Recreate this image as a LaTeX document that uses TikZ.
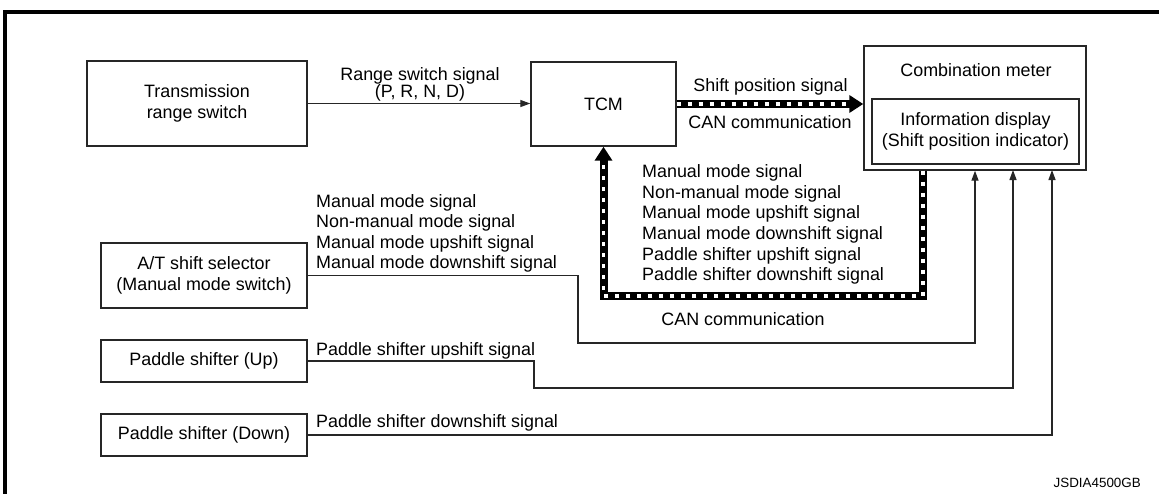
\documentclass[tikz,border=0pt]{standalone}
\usepackage{fontspec}
\setmainfont{Liberation Sans}
\usetikzlibrary{arrows.meta}
\newcommand\dgfont{\fontsize{17.9}{20.7}\selectfont}
\begin{document}
\begin{tikzpicture}[x=1pt,y=-1pt,
  box/.style={draw=black!85, line width=1.4pt, inner sep=0pt, align=center, font=\dgfont},
  txt/.style={inner sep=0pt, font=\dgfont},
  sig/.style={draw=black!85, line width=1.3pt, -{Triangle[length=10pt,width=7pt]}},
  canblack/.style={draw=black, line width=8pt, line join=miter},
  canwhite/.style={draw=white, line width=3.2pt, dash pattern=on 4pt off 7pt},
  cantip/.style={-{Triangle[length=14pt,width=17pt]}}]
\useasboundingbox (0,0) rectangle (1159,493);
% outer frame
\draw[line width=3.5pt] (5,510) -- (5,12) -- (1180,12);
% boxes
\node[box, minimum width=220pt, minimum height=85pt] (trs) at (197,103.5) {Transmission\\range switch};
\node[box, minimum width=145pt, minimum height=84pt] (tcm) at (603.5,104) {TCM};
\node[box, minimum width=222pt, minimum height=124pt] (meter) at (975,108) {};
\node[txt, anchor=base] (cmtext) at (976,76.7) {Combination meter};
\node[box, minimum width=207pt, minimum height=65pt] (info) at (975.5,131.5) {Information display\\(Shift position indicator)};
\node[box, minimum width=206pt, minimum height=65pt] (at) at (204,275.5) {A/T shift selector\\(Manual mode switch)};
\node[box, minimum width=206pt, minimum height=42pt] (pup) at (204,361) {Paddle shifter (Up)};
\node[box, minimum width=206pt, minimum height=42pt] (pdown) at (204,435) {Paddle shifter (Down)};
% coordinates
\coordinate (mB) at (1013,170);
\coordinate (mC) at (1052,170);
\coordinate (ja) at (578,343);
\coordinate (jb) at (534,388);
\coordinate (loopR) at (923,296);
\coordinate (loopL) at (603.5,296);
% thin signals
\draw[sig] (trs.east) -- (tcm.west |- trs.east);
\draw[sig] (at.east) -| (ja) -| (meter.south);
\draw[sig] (pup.east) -| (jb) -| (mB);
\draw[sig] (pdown.east) -| (mC);
% CAN lines
\draw[canblack, cantip] (tcm.east) -- (meter.west |- tcm.east);
\draw[canwhite, shorten >=15pt] (tcm.east) -- (meter.west |- tcm.east);
\draw[canblack, cantip] (loopR |- meter.south) -- (loopR) -- (loopL) -- (tcm.south);
\draw[canwhite, shorten >=15pt] (loopR |- meter.south) -- (loopR) -- (loopL) -- (tcm.south);
% labels
\node[txt, anchor=base] (rs1) at (420,80) {Range switch signal};
\node[txt, anchor=base] (rs2) at (420,97.5) {(P, R, N, D)};
\node[txt, anchor=base] (sps) at (770.5,91.7) {Shift position signal};
\node[txt, anchor=base] (can1) at (770,128) {CAN communication};
\node[txt, anchor=north west, align=left] (loopsig) at (642,164.2) {Manual mode signal\\Non-manual mode signal\\Manual mode upshift signal\\Manual mode downshift signal\\Paddle shifter upshift signal\\Paddle shifter downshift signal};
\node[txt, anchor=base] (can2) at (743,325) {CAN communication};
\node[txt, anchor=north west, align=left, font={\fontsize{17.9}{20.3}\selectfont}] (atsig) at (316,194.3) {Manual mode signal\\Non-manual mode signal\\Manual mode upshift signal\\Manual mode downshift signal};
\node[txt, anchor=base west] (pus) at (316,355) {Paddle shifter upshift signal};
\node[txt, anchor=base west] (pds) at (316,427) {Paddle shifter downshift signal};
\node[inner sep=0pt, anchor=base east, font={\fontsize{13.4}{16}\selectfont}] (code) at (1141,487) {JSDIA4500GB};
\end{tikzpicture}
\end{document}
